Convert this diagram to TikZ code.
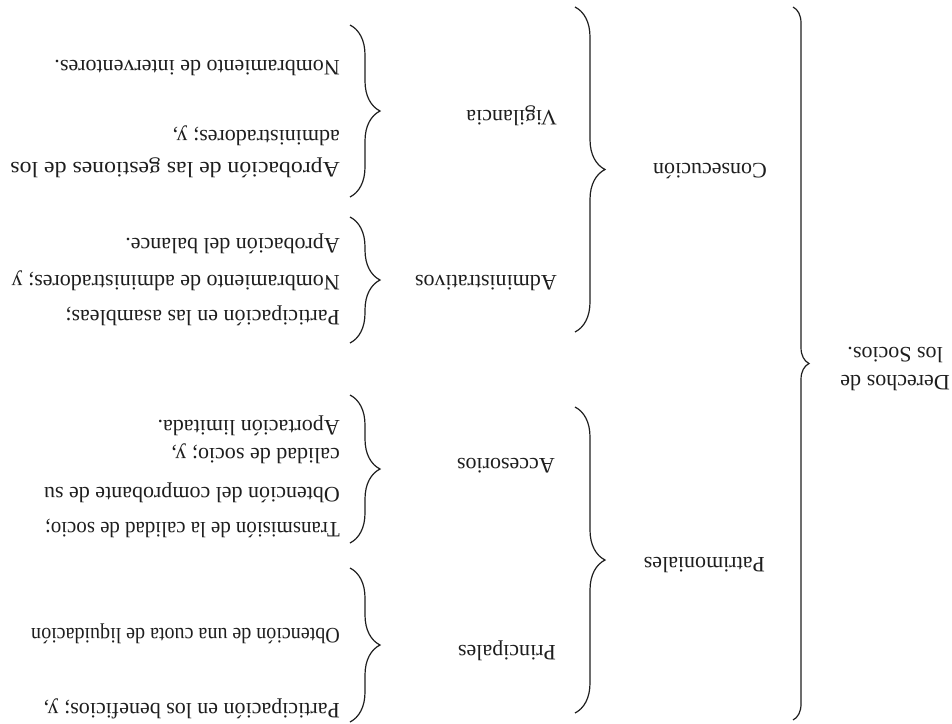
\documentclass[tikz,border=0pt]{standalone}
\usepackage{fontspec}
\setmainfont{Liberation Serif}
\usetikzlibrary{decorations.pathreplacing}
\definecolor{inkColor}{RGB}{30, 30, 30}
\tikzset{
    % --- text styles ---
    baseText/.style={
        inner sep=0pt, anchor=west, text=inkColor,
        font=\fontsize{22}{28}\selectfont,
        text height=15pt, text depth=5pt
    },
    rootText/.style={baseText, align=left, text height=, text depth=},
    % --- brace styles ---
    braceL/.style={
        draw=inkColor, line width=1.2pt,
        decorate, decoration={brace, amplitude=#1}
    }
}
\begin{document}
\begin{tikzpicture}[x=1pt, y=1pt]
	\useasboundingbox (0,0) rectangle (952,-723);
	% the sheet is scanned upside down
	\begin{scope}[rotate around={180:(476,-361.5)}, transform shape]

		% --- level 1 ---
		\node[rootText] (root) at (2,-354) {Derechos de\\\hspace*{7pt}los Socios.};
		\draw[braceL=16pt] (159,-716) -- (159,-3);

		% --- level 2 ---
		\node[baseText] (pat) at (187,-161) {Patrimoniales};
		\node[baseText] (con) at (185,-555) {Consecución};
		\draw[braceL=30pt] (377,-316) -- (377,-10);
		\draw[braceL=30pt] (377,-716) -- (377,-391);

		% --- level 3 ---
		\node[baseText] (pri) at (396,-73) {Principales};
		\node[baseText] (acc) at (397,-260) {Accesorios};
		\node[baseText] (adm) at (395,-443) {Administrativos};
		\node[baseText] (vig) at (395,-608) {Vigilancia};
		\draw[braceL=30pt] (602,-155) -- (602,-1);
		\draw[braceL=30pt] (602,-328) -- (602,-180);
		\draw[braceL=30pt] (602,-506) -- (602,-380);
		\draw[braceL=30pt] (602,-698) -- (602,-526);

		% --- items: Principales ---
		\node[baseText] (pri1) at (612,-15) {Participación en los beneficios; y,};
		\node[baseText, xscale=0.91] (pri2) at (612,-90) {Obtención de una cuota de liquidación};

		% --- items: Accesorios ---
		\node[baseText, xscale=0.95] (acc1) at (612,-196) {Transmisión de la calidad de socio;};
		\node[baseText] (acc2) at (612,-231) {Obtención del comprobante de su};
		\node[baseText] (acc3) at (612,-270) {calidad de socio; y,};
		\node[baseText] (acc4) at (612,-298) {Aportación limitada.};

		% --- items: Administrativos ---
		\node[baseText] (adm1) at (612,-408) {Participación en las asambleas;};
		\node[baseText] (adm2) at (612,-443) {Nombramiento de administradores; y};
		\node[baseText] (adm3) at (612,-480) {Aprobación del balance.};

		% --- items: Vigilancia ---
		\node[baseText, xscale=1.08] (vig1) at (612,-556) {Aprobación de las gestiones de los};
		\node[baseText] (vig2) at (612,-588) {administradores; y,};
		\node[baseText] (vig3) at (612,-658) {Nombramiento de interventores.};

	\end{scope}
\end{tikzpicture}
\end{document}
